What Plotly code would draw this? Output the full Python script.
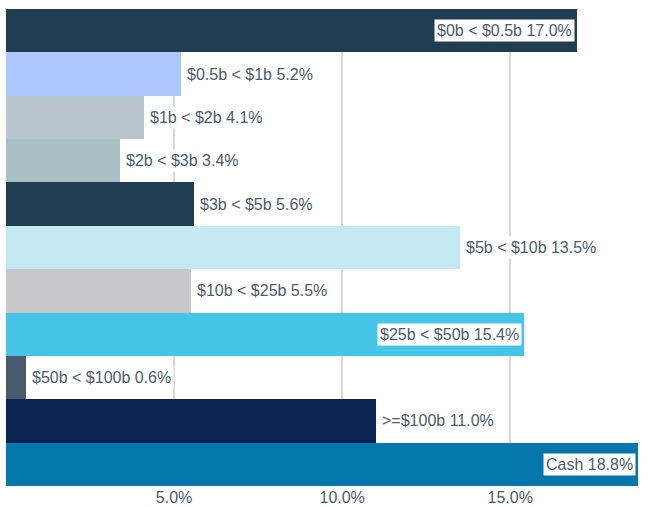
import plotly.graph_objects as go

categories = ["$0b < $0.5b", "$0.5b < $1b", "$1b < $2b", "$2b < $3b", "$3b < $5b",
              "$5b < $10b", "$10b < $25b", "$25b < $50b", "$50b < $100b", ">=$100b", "Cash"]
values = [17.0, 5.2, 4.1, 3.4, 5.6, 13.5, 5.5, 15.4, 0.6, 11.0, 18.8]
colors = ["#213d52", "#adc8ff", "#b8c4ce", "#a8bfc4", "#213d52", "#c5e8f5",
          "#c8c8ca", "#47c5e8", "#4a5a6e", "#0a2350", "#0677ad"]
tick_vals = [5, 10, 15]
tick_text = ["5.0%", "10.0%", "15.0%"]

text_color = "#4d5b6b"
inside_threshold = 14

fig = go.Figure(go.Bar(
    x=values, y=categories, orientation="h",
    marker=dict(color=colors, line=dict(width=0)),
    hoverinfo="skip",
))

for cat, v in zip(categories, values):
    inside = v > inside_threshold
    fig.add_annotation(
        x=v, y=cat, xref="x", yref="y",
        text=f"{cat} {v:.1f}%",
        showarrow=False,
        xanchor="right" if inside else "left",
        xshift=-2 if inside else 3,
        bgcolor="white",
        borderpad=2,
        font=dict(family="Liberation Sans, Arial", size=16, color=text_color),
    )

fig.update_layout(
    width=670, height=507,
    margin=dict(l=6, r=32, t=9, b=21),
    paper_bgcolor="white", plot_bgcolor="white",
    bargap=0,
    showlegend=False,
    font=dict(family="Liberation Sans, Arial", size=16, color=text_color),
)
fig.update_xaxes(range=[0, 18.8], tickvals=tick_vals, ticktext=tick_text,
                 showgrid=True, gridcolor="#d9d9d9", gridwidth=2,
                 zeroline=False, showline=False, ticks="", ticklabelstandoff=0,
                 automargin=False,
                 tickfont=dict(size=16, color=text_color))
fig.update_yaxes(autorange="reversed", showticklabels=False, showgrid=False,
                 zeroline=False, showline=False, automargin=False)

fig.write_html("out.html")
